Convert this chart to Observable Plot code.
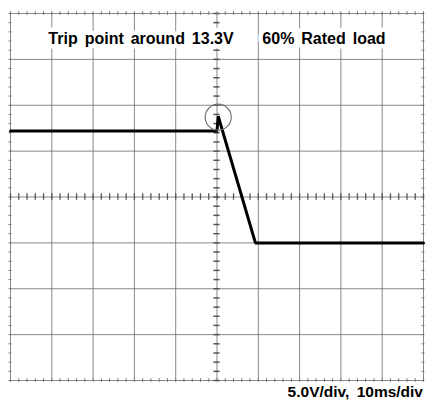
<!DOCTYPE html>
<html>
<head>
<meta charset="utf-8">
<script src="https://cdn.jsdelivr.net/npm/d3@7"></script>
<script src="https://cdn.jsdelivr.net/npm/@observablehq/plot@0.6"></script>
<style>
  html, body { margin: 0; padding: 0; background: #fff; }
  #chart { width: 428px; }
  #chart svg text { word-spacing: 2.5px; }
  .caption { font-family: "Liberation Sans", Arial, sans-serif; font-weight: bold; font-size: 15.5px;
             word-spacing: 3px; text-align: right; padding-right: 5px; line-height: 17px; margin-top: 0px; color: #000; }
</style>
</head>
<body>
<div id="chart"></div>
<script>
// Time (ms) and voltage (V) of the trace
const timeMs = [0, 50, 50.3, 59.3, 100];
const volts = [12.2, 12.2, 13.8, 0, 0];

// Grid divisions: 10 ms/div horizontally, 5 V/div vertically
const xGrid = [0, 10, 20, 30, 40, 50, 60, 70, 80, 90, 100];
const yGrid = [-15, -10, -5, 0, 5, 10, 15, 20, 25];

// Trip point marker
const tripTime = [50.3];
const tripVolts = [13.7];

// Annotations
const labels = ["Trip point around 13.3V", "60% Rated load"];
const labelTime = [31.6, 75.9];
const labelVolts = [22.2, 22.2];
const caption = "5.0V/div, 10ms/div";

const trace = timeMs.map((t, i) => ({t, v: volts[i]}));
const minorX = d3.range(0, 100.001, 2);
const minorY = d3.range(-15, 25.001, 1);
const centerX = 50, centerY = 5;

const chart = Plot.plot({
  width: 428,
  height: 383,
  marginTop: 13,
  marginBottom: 3,
  marginLeft: 10,
  marginRight: 5,
  x: {domain: [0, 100], axis: null},
  y: {domain: [-15, 25], axis: null},
  marks: [
    Plot.ruleX(xGrid, {stroke: "#6a6a6a", strokeWidth: 1, strokeOpacity: 0.8}),
    Plot.ruleY(yGrid, {stroke: "#6a6a6a", strokeWidth: 1, strokeOpacity: 0.8}),
    // center axis minor ticks
    Plot.ruleY(minorY, {x1: centerX - 0.75, x2: centerX + 0.75, stroke: "#555", strokeWidth: 1.5}),
    Plot.ruleX(minorX, {y1: centerY - 0.35, y2: centerY + 0.35, stroke: "#555", strokeWidth: 1.3}),
    // small ticks along the frame
    Plot.ruleX(minorX, {y1: 25 - 0.2, y2: 25 + 0.2, stroke: "#777", strokeWidth: 1}),
    Plot.ruleX(minorX, {y1: -15 - 0.2, y2: -15 + 0.2, stroke: "#777", strokeWidth: 1}),
    Plot.ruleY(minorY, {x1: -0.35, x2: 0.35, stroke: "#777", strokeWidth: 1}),
    Plot.ruleY(minorY, {x1: 99.65, x2: 100.35, stroke: "#777", strokeWidth: 1}),
    Plot.text(labels, {
      x: (d, i) => labelTime[i], y: (d, i) => labelVolts[i], text: d => d,
      fontFamily: "Liberation Sans, Arial, sans-serif", fontWeight: "bold", fontSize: 16,
      fill: "#000", stroke: "white", strokeWidth: 9, paintOrder: "stroke"
    }),
    Plot.line(trace, {x: "t", y: "v", stroke: "#000", strokeWidth: 3, strokeLinejoin: "miter"}),
    Plot.dot(tripTime, {x: d => d, y: (d, i) => tripVolts[i], r: 13, stroke: "#777", strokeWidth: 1.2, fill: "none"})
  ]
});
document.getElementById("chart").appendChild(chart);
const cap = document.createElement("div");
cap.className = "caption";
cap.textContent = caption;
document.getElementById("chart").appendChild(cap);
</script>
</body>
</html>
